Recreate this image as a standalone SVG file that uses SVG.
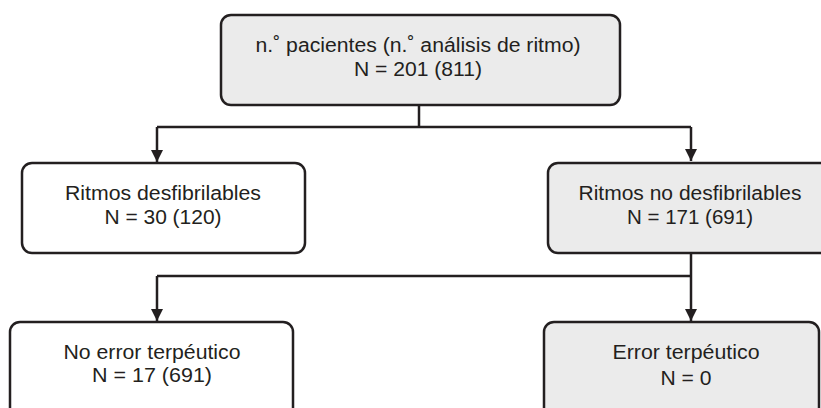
<svg xmlns="http://www.w3.org/2000/svg" width="821" height="408" viewBox="0 0 821 408">
<defs>
<style>
.box{stroke:#231f20;stroke-width:2.5}
.grey{fill:#ebebeb}
.white{fill:#ffffff}
.t{font-family:"Liberation Sans",Arial,sans-serif;font-size:19.5px;fill:#231f20;text-anchor:middle}
.line{fill:none;stroke:#231f20;stroke-width:2.5}
</style>
<marker id="arr" markerWidth="12" markerHeight="12" refX="12" refY="6" orient="auto" markerUnits="userSpaceOnUse">
<path d="M0,0 L12,6 L0,12 Z" fill="#231f20"/>
</marker>
</defs>
<rect width="821" height="408" fill="#ffffff"/>
<g id="connectors">
<path class="line" d="M419,105 V127"/>
<path class="line" d="M157,127 H691"/>
<path class="line" d="M157,127 V162" marker-end="url(#arr)"/>
<path class="line" d="M691,127 V161" marker-end="url(#arr)"/>
<path class="line" d="M691,253 V321" marker-end="url(#arr)"/>
<path class="line" d="M157,276 H691"/>
<path class="line" d="M157,276 V321" marker-end="url(#arr)"/>
</g>
<g id="node-top">
<rect class="box grey" x="221" y="15" width="399" height="90" rx="10"/>
<text class="t" x="418" y="52" textLength="325" lengthAdjust="spacingAndGlyphs">n.˚ pacientes (n.˚ análisis de ritmo)</text>
<text class="t" x="418" y="76" textLength="128" lengthAdjust="spacingAndGlyphs">N = 201 (811)</text>
</g>
<g id="node-desf">
<rect class="box white" x="22" y="163" width="283" height="90" rx="10"/>
<text class="t" x="163" y="199.5" textLength="196" lengthAdjust="spacingAndGlyphs">Ritmos desfibrilables</text>
<text class="t" x="163" y="224" textLength="117" lengthAdjust="spacingAndGlyphs">N = 30 (120)</text>
</g>
<g id="node-nodesf">
<rect class="box grey" x="548" y="163" width="282" height="90" rx="10"/>
<text class="t" x="690" y="199.5" textLength="223" lengthAdjust="spacingAndGlyphs">Ritmos no desfibrilables</text>
<text class="t" x="690" y="223.5" textLength="126" lengthAdjust="spacingAndGlyphs">N = 171 (691)</text>
</g>
<g id="node-noerror">
<rect class="box white" x="10" y="322" width="283" height="96" rx="10"/>
<text class="t" x="152" y="358.5" textLength="177" lengthAdjust="spacingAndGlyphs">No error terpéutico</text>
<text class="t" x="152" y="382" textLength="120" lengthAdjust="spacingAndGlyphs">N = 17 (691)</text>
</g>
<g id="node-error">
<rect class="box grey" x="544" y="322" width="275" height="96" rx="10"/>
<text class="t" x="686" y="359" textLength="147" lengthAdjust="spacingAndGlyphs">Error terpéutico</text>
<text class="t" x="686" y="385" textLength="51" lengthAdjust="spacingAndGlyphs">N = 0</text>
</g>
</svg>
